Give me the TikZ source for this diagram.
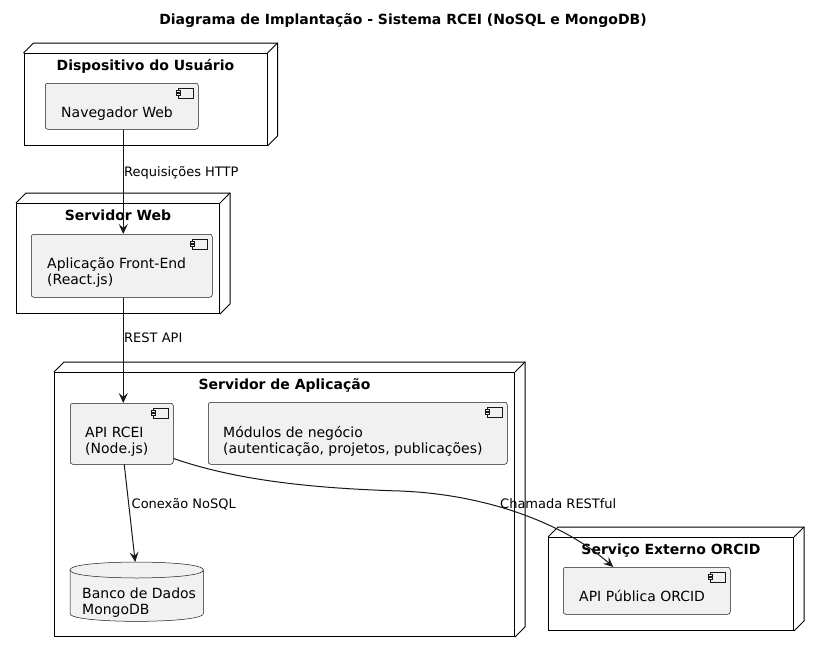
\documentclass[tikz,border=0pt]{standalone}
\usepackage{fontspec}
\setmainfont{DejaVu Sans}
\usetikzlibrary{arrows.meta}
\definecolor{compfill}{HTML}{F1F1F1}
\definecolor{ink}{HTML}{181818}
\newcommand\mkdepth[1]{%
  \draw[nodeline] (#1.north west) -- ++(10,-10) -- ([shift={(10,-10)}]#1.north east) -- ([shift={(10,-10)}]#1.south east) -- (#1.south east);
  \draw[nodeline] (#1.north east) -- ++(10,-10);}
\newcommand\mkicon[1]{%
  \draw[iconline] ([shift={(-20,5)}]#1.north east) rectangle ++(15,10);
  \draw[iconline] ([shift={(-22,7.5)}]#1.north east) rectangle ++(4,2);
  \draw[iconline] ([shift={(-22,10.5)}]#1.north east) rectangle ++(4,2);}
\newcommand\twolines[2]{\vtop{\hbox{#1}\hbox{#2}}}
\begin{document}
\begin{tikzpicture}[x=1pt,y=-1pt,
  nodeline/.style={line width=1pt, draw=black, line join=miter},
  nodebox/.style={nodeline, fill=white, inner sep=0, anchor=north west},
  compbox/.style={draw=ink, line width=0.5pt, fill=compfill, rounded corners=2.5pt, inner sep=0, anchor=north west},
  iconline/.style={draw=ink, line width=0.5pt, fill=compfill},
  ctext/.style={inner sep=0, anchor=base west, font=\fontsize{14}{16.3}\selectfont, text=black},
  ntitle/.style={inner sep=0, anchor=base, font=\fontsize{14}{16.3}\selectfont\bfseries},
  elabel/.style={inner sep=0, anchor=base west, font=\fontsize{13}{15}\selectfont},
  conn/.style={draw=ink, line width=1pt, -{Stealth[length=10pt,width=9pt,inset=4pt]}}
]
\useasboundingbox (0,0) rectangle (819,653);

\node[ntitle] (title) at (403,24) {Diagrama de Implantação - Sistema RCEI (NoSQL e MongoDB)};

% deployment nodes
\node[nodebox, minimum width=243pt, minimum height=92pt] (dev) at (23.5,53) {};
\mkdepth{dev}
\node[ntitle] (devt) at ([yshift=-17pt]dev.north) {Dispositivo do Usuário};

\node[nodebox, minimum width=203pt, minimum height=110pt] (web) at (16,203) {};
\mkdepth{web}
\node[ntitle] (webt) at ([yshift=-17pt]web.north) {Servidor Web};

\node[nodebox, minimum width=460pt, minimum height=264pt] (app) at (54,372) {};
\mkdepth{app}
\node[ntitle] (appt) at ([yshift=-17pt]app.north) {Servidor de Aplicação};

\node[nodebox, minimum width=245pt, minimum height=93pt] (orc) at (548,537) {};
\mkdepth{orc}
\node[ntitle] (orct) at ([yshift=-17pt]orc.north) {Serviço Externo ORCID};

% components
\node[compbox, minimum width=153pt, minimum height=46pt] (nav) at (45,83) {};
\mkicon{nav}
\node[ctext] (navt) at ([shift={(16,34)}]nav.north west) {Navegador Web};

\node[compbox, minimum width=181pt, minimum height=63pt] (fe) at (31,234) {};
\mkicon{fe}
\node[ctext] (fet) at ([shift={(16,34)}]fe.north west) {\twolines{Aplicação Front-End}{(React.js)}};

\node[compbox, minimum width=103pt, minimum height=61pt] (api) at (70,403) {};
\mkicon{api}
\node[ctext] (apit) at ([shift={(15,34)}]api.north west) {\twolines{API RCEI}{(Node.js)}};

\node[compbox, minimum width=299pt, minimum height=62pt] (mod) at (208,402) {};
\mkicon{mod}
\node[ctext] (modt) at ([shift={(15,35)}]mod.north west) {\twolines{Módulos de negócio}{(autenticação, projetos, publicações)}};

\node[compbox, minimum width=167pt, minimum height=47pt] (oapi) at (563,567) {};
\mkicon{oapi}
\node[ctext] (oapit) at ([shift={(16,34)}]oapi.north west) {API Pública ORCID};

% database
\node[inner sep=0, anchor=north west, minimum width=133pt, minimum height=59pt] (db) at (70,562) {};
\draw[iconline] ([shift={(0,8)}]db.north west) .. controls (db.north west) and (db.north) .. (db.north)
  .. controls (db.north) and (db.north east) .. ([shift={(0,8)}]db.north east)
  -- ([shift={(0,-8)}]db.south east) .. controls (db.south east) and (db.south) .. (db.south)
  .. controls (db.south) and (db.south west) .. ([shift={(0,-8)}]db.south west) -- cycle;
\draw[iconline, fill=none] ([shift={(0,8)}]db.north west) .. controls ([shift={(0,16)}]db.north west) and ([shift={(0,16)}]db.north) .. ([shift={(0,16)}]db.north)
  .. controls ([shift={(0,16)}]db.north) and ([shift={(0,16)}]db.north east) .. ([shift={(0,8)}]db.north east);
\node[ctext] (dbt) at ([shift={(12,36)}]db.north west) {\twolines{Banco de Dados}{MongoDB}};

% connectors
\draw[conn] ([xshift=1.5pt]nav.south) -- ([xshift=1.5pt]fe.north);
\draw[conn] ([xshift=1.5pt]fe.south) -- ([xshift=1.5pt]api.north);
\draw[conn] ([xshift=2.5pt]api.south) -- ([xshift=-1.5pt]db.north);
\draw[conn] ([yshift=6pt]api.south east) .. controls (230,478) and (300,488) .. (400,491)
  .. controls (480,494) and (560,520) .. ([xshift=-33.5pt]oapi.north);

% labels
\node[elabel] (l1) at (124,176) {Requisições HTTP};
\node[elabel] (l2) at (124,342.7) {REST API};
\node[elabel] (l3) at (131.5,508) {Conexão NoSQL};
\node[elabel] (l4) at (500,508) {Chamada RESTful};
\end{tikzpicture}
\end{document}
